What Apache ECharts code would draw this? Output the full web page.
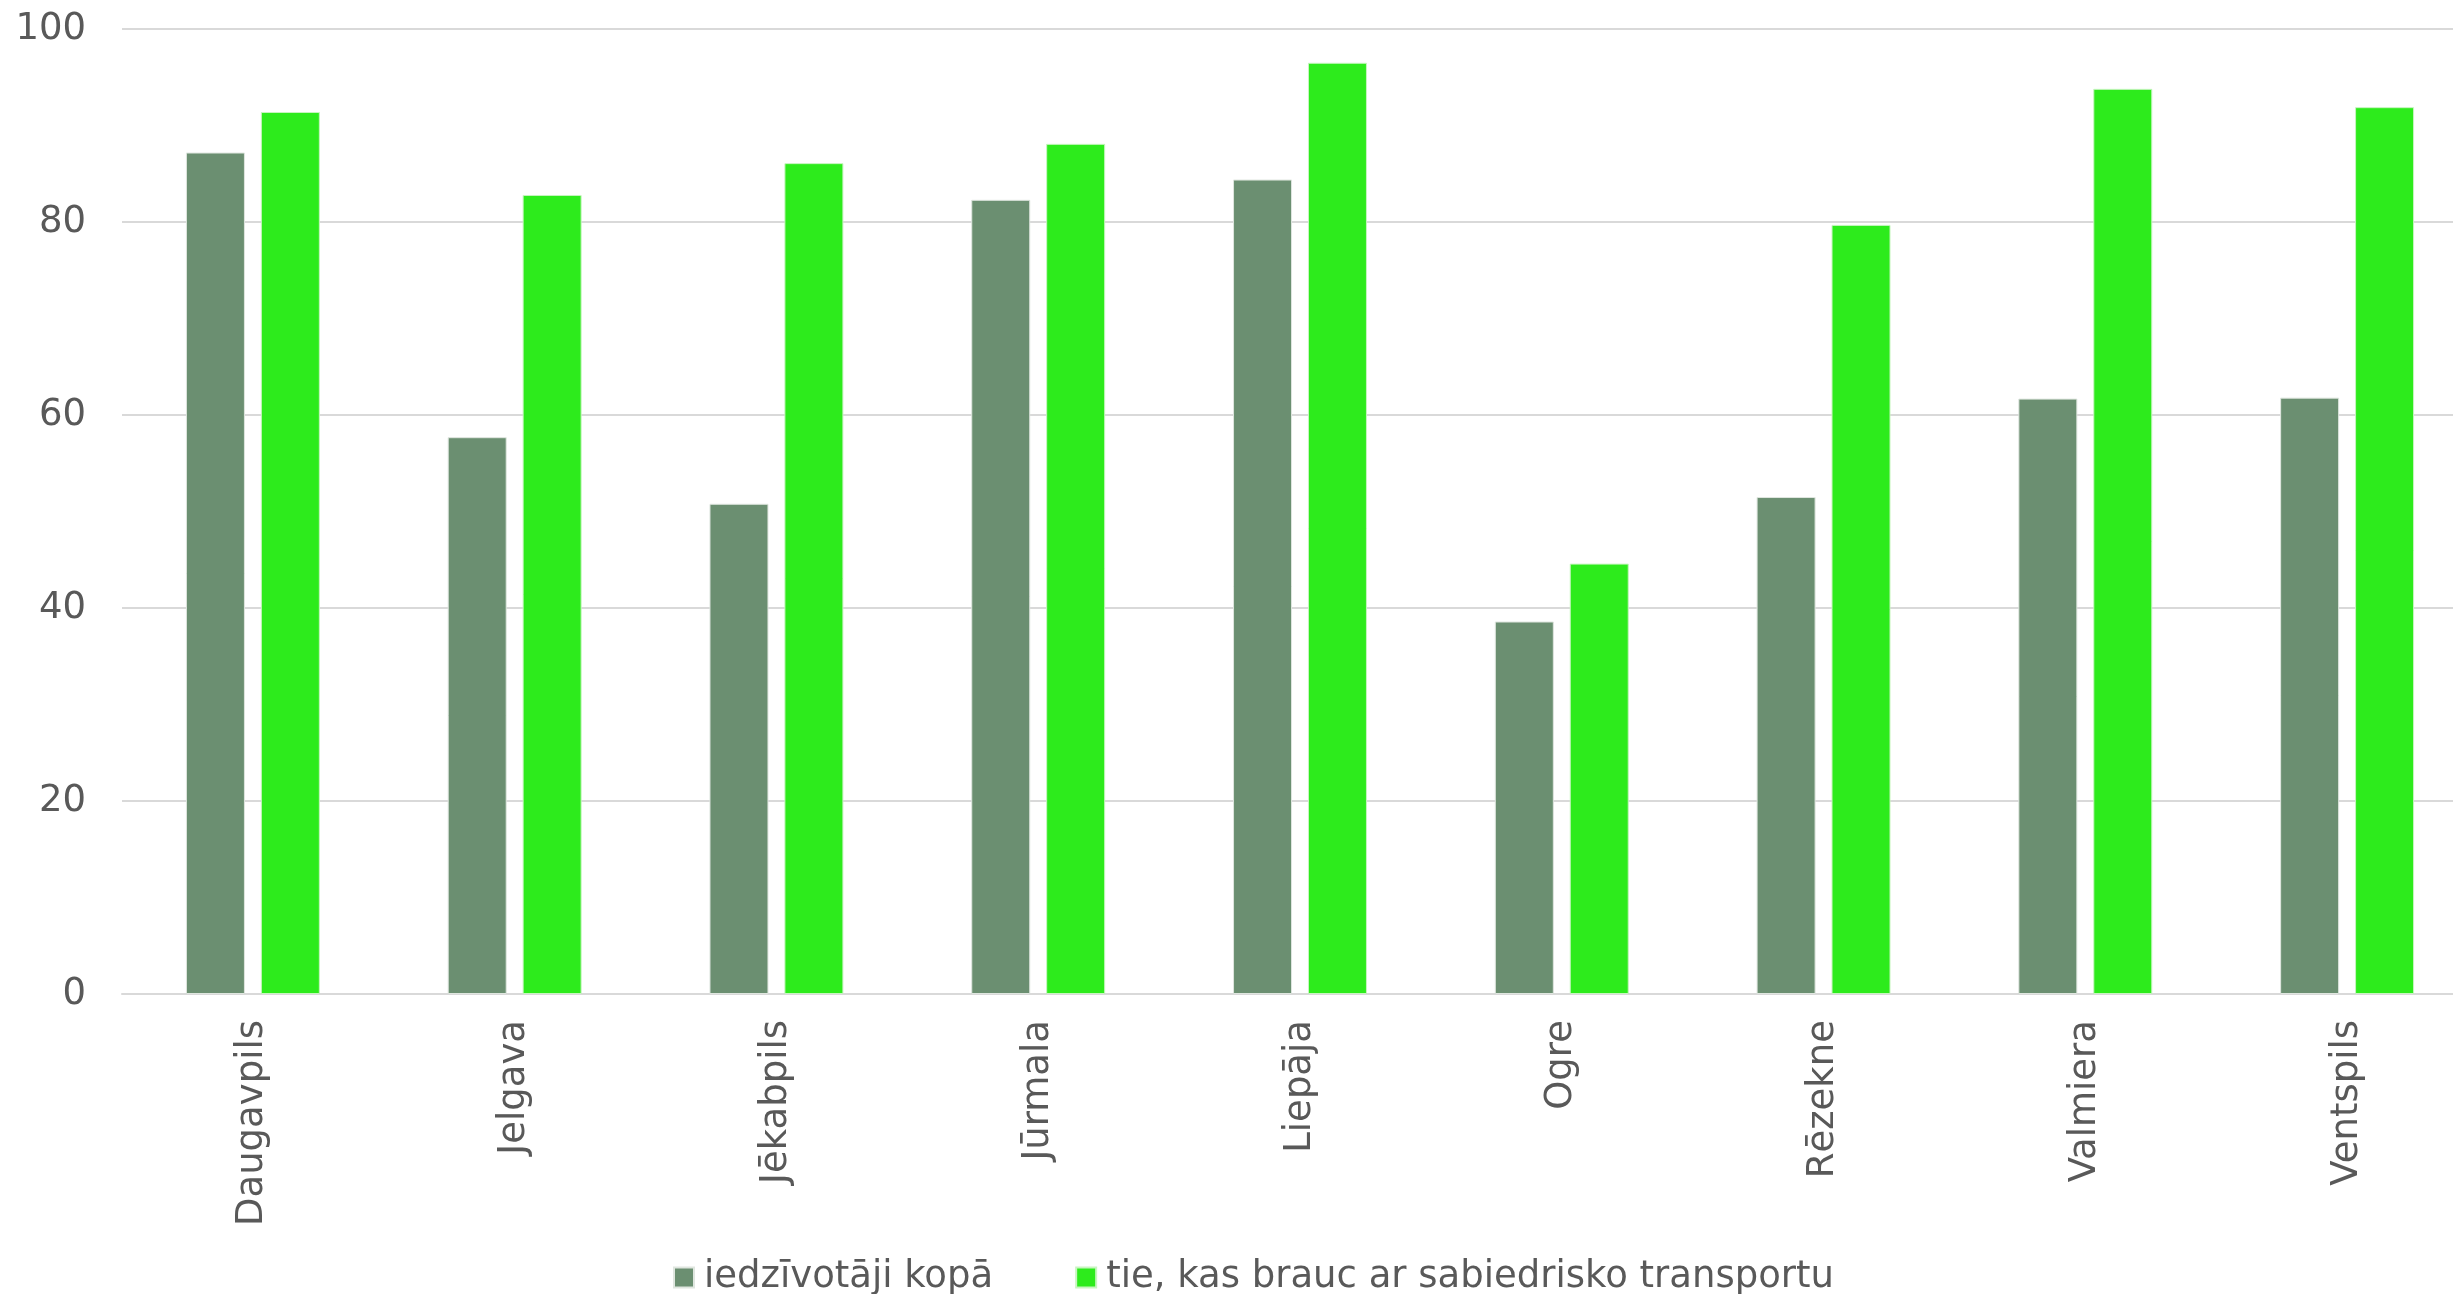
<!DOCTYPE html>
<html>
<head>
<meta charset="utf-8">
<script src="https://cdn.jsdelivr.net/npm/echarts@6/dist/echarts.min.js"></script>
<style>
  html, body { margin: 0; padding: 0; background: #ffffff; }
  #chart { width: 2453px; height: 1294px; }
</style>
</head>
<body>
<div id="chart"></div>
<script>
var cities = ['Daugavpils', 'Jelgava', 'Jēkabpils', 'Jūrmala', 'Liepāja', 'Ogre', 'Rēzekne', 'Valmiera', 'Ventspils'];
var residentsTotal = [87.2, 57.7, 50.8, 82.3, 84.4, 38.6, 51.5, 61.7, 61.8];
var publicTransport = [91.4, 82.8, 86.1, 88.1, 96.5, 44.6, 79.7, 93.8, 91.9];
var yTicks = [0, 20, 40, 60, 80, 100];

var chartDom = document.getElementById('chart');
var myChart = echarts.init(chartDom);
var option;

var textColor = '#595959';
var fontFamily = 'Verdana, "DejaVu Sans", sans-serif';

option = {
  animation: false,
  textStyle: { fontFamily: fontFamily },
  grid: {
    left: 122,
    width: 2356,
    top: 29,
    bottom: 300,
    containLabel: false,
    outerBoundsMode: 'none'
  },
  legend: {
    left: 668,
    top: 1254,
    icon: 'rect',
    itemWidth: 20,
    itemHeight: 20,
    itemGap: 82,
    textStyle: { color: textColor, fontSize: 37, fontFamily: fontFamily, padding: [0, 0, 0, 5] },
    data: ['iedzīvotāji kopā', 'tie, kas brauc ar sabiedrisko transportu']
  },
  xAxis: {
    type: 'category',
    data: cities,
    axisLine: { show: true, lineStyle: { color: '#d9d9d9', width: 2 } },
    axisTick: { show: false },
    axisLabel: {
      rotate: 90,
      margin: 26,
      color: textColor,
      fontSize: 37,
      fontFamily: fontFamily
    }
  },
  yAxis: {
    type: 'value',
    min: yTicks[0],
    max: yTicks[yTicks.length - 1],
    interval: 20,
    axisLine: { show: false },
    axisTick: { show: false },
    splitLine: { lineStyle: { color: '#d9d9d9', width: 2 } },
    axisLabel: {
      margin: 36,
      color: textColor,
      fontSize: 37,
      fontFamily: fontFamily
    }
  },
  series: [
    {
      name: 'iedzīvotāji kopā',
      type: 'bar',
      data: residentsTotal,
      barWidth: 59,
      barGap: '27%',
      itemStyle: { color: '#6b8f71', borderColor: '#dfe6df', borderWidth: 1 }
    },
    {
      name: 'tie, kas brauc ar sabiedrisko transportu',
      type: 'bar',
      data: publicTransport,
      barWidth: 59,
      barGap: '27%',
      itemStyle: { color: '#2deb1c', borderColor: '#c8f5c0', borderWidth: 1 }
    }
  ]
};

option && myChart.setOption(option);
</script>
</body>
</html>
